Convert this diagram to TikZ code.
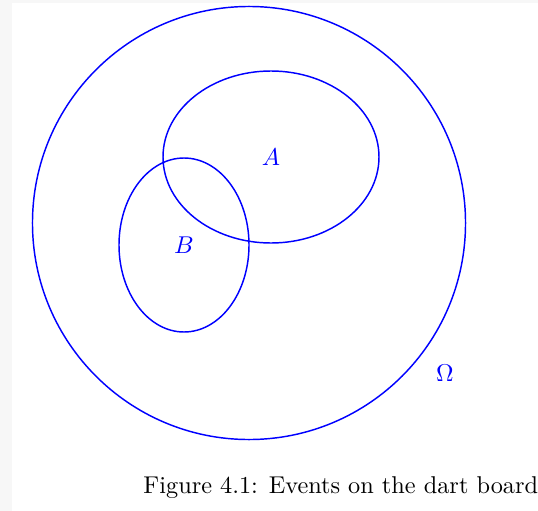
\documentclass[tikz,border=0pt]{standalone}
\begin{document}
\begin{tikzpicture}[x=0.4115pt,y=-0.4115pt,
  setline/.style={draw=blue,line width=0.6pt},
  setlabel/.style={text=blue,inner sep=0pt,font=\normalsize}]
\useasboundingbox (0,0) rectangle (538,511);
\fill[black!3] (0,0) rectangle (538,511);
\fill[white] (12,3) rectangle (538,511);
\draw[setline] (249,223) circle [radius=89.1pt];
\draw[setline] (271,157) ellipse [x radius=44.44pt, y radius=35.39pt];
\draw[setline] (184,245) ellipse [x radius=26.75pt, y radius=35.8pt];
\node[setlabel] (labA) at (271,157) {$A$};
\node[setlabel] (labB) at (184,245) {$B$};
\node[setlabel] (labO) at (445,373) {$\Omega$};
\node[anchor=base west,inner sep=0pt] (cap) at (143,493) {Figure 4.1: Events on the dart board};
\end{tikzpicture}
\end{document}
